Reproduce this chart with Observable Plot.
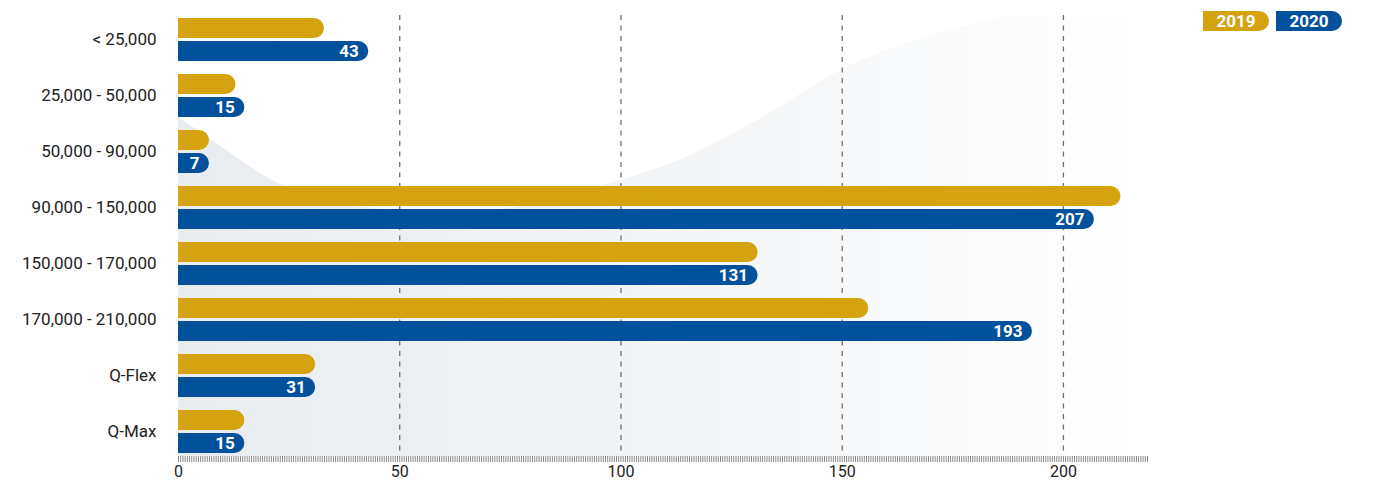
<!DOCTYPE html>
<html>
<head>
<meta charset="utf-8">
<script src="https://cdn.jsdelivr.net/npm/d3@7"></script>
<script src="https://cdn.jsdelivr.net/npm/@observablehq/plot@0.6"></script>
<style>
  html, body { margin: 0; padding: 0; background: #fff; }
  #wrap { position: relative; width: 1380px; height: 481px; font-family: Roboto, "Noto Sans", sans-serif; }
  #legend { position: absolute; left: 1203px; top: 11px; display: flex; gap: 7px; }
  .pill { width: 66px; height: 20px; line-height: 20px; border-radius: 0 10px 10px 0; color: #fff;
          font-weight: 700; font-size: 17px; text-align: center; font-family: Roboto, sans-serif; }
</style>
</head>
<body>
<div id="wrap"><div id="legend"></div></div>
<script>
// ---- data ----
const categories = ["< 25,000", "25,000 - 50,000", "50,000 - 90,000", "90,000 - 150,000",
                    "150,000 - 170,000", "170,000 - 210,000", "Q-Flex", "Q-Max"];
const values2019 = [33, 13, 7, 213, 131, 156, 31, 15];
const values2020 = [43, 15, 7, 207, 131, 193, 31, 15];
const years = ["2019", "2020"];
const gridTicks = [50, 100, 150, 200];
const axisLabelTicks = [0, 50, 100, 150, 200];
// decorative backdrop wave: x value and relative depth from top of plot area
const waveX = [0, 7.5, 22.6, 38.9, 60.3, 81.8, 97.8, 113, 131.5, 151, 172, 192.7, 219];
const waveDepth = [0.231, 0.283, 0.381, 0.431, 0.447, 0.426, 0.381, 0.329, 0.234, 0.118, 0.041, 0, 0];

const colors = {"2019": "#d4a30f", "2020": "#03519b"};

const rows = [];
categories.forEach((c, i) => {
  rows.push({cat: c, year: "2019", value: values2019[i]});
  rows.push({cat: c, year: "2020", value: values2020[i]});
});
const r2019 = rows.filter(d => d.year === "2019");
const r2020 = rows.filter(d => d.year === "2020");
const wave = waveX.map((x, i) => ({x, f: waveDepth[i]}));

function backdrop(index, scales, values, dimensions) {
  const {marginTop, marginBottom, height} = dimensions;
  const top = marginTop, bottom = height - marginBottom;
  const ns = "http://www.w3.org/2000/svg";
  const g = document.createElementNS(ns, "g");
  const defs = document.createElementNS(ns, "defs");
  const grad = document.createElementNS(ns, "linearGradient");
  grad.setAttribute("id", "bgGrad");
  grad.setAttribute("gradientUnits", "userSpaceOnUse");
  grad.setAttribute("x1", scales.x(0)); grad.setAttribute("x2", scales.x(219));
  grad.setAttribute("y1", 0); grad.setAttribute("y2", 0);
  [["0", "#e8ecf0"], ["0.55", "#f3f5f7"], ["1", "#ffffff"]].forEach(([o, c]) => {
    const s = document.createElementNS(ns, "stop");
    s.setAttribute("offset", o); s.setAttribute("stop-color", c);
    grad.appendChild(s);
  });
  defs.appendChild(grad);
  g.appendChild(defs);
  const area = d3.area()
    .x(d => scales.x(d.x))
    .y0(bottom)
    .y1(d => top + d.f * (bottom - top))
    .curve(d3.curveMonotoneX);
  const p = document.createElementNS(ns, "path");
  p.setAttribute("d", area(wave));
  p.setAttribute("fill", "url(#bgGrad)");
  g.appendChild(p);
  return g;
}

const chart = Plot.plot({
  width: 1380,
  height: 481,
  marginLeft: 178,
  marginRight: 233,
  marginTop: 15,
  marginBottom: 25,
  style: {fontFamily: "Roboto, sans-serif", fontSize: "17px", color: "#222", background: "transparent"},
  x: {domain: [0, 219]},
  y: {domain: categories, paddingInner: 0.24, paddingOuter: 0.02},
  marks: [
    backdrop,
    Plot.ruleX(gridTicks, {stroke: "#707070", strokeWidth: 1.3, strokeDasharray: "5,5.5"}),
    Plot.barX(r2019, {x: "value", y: "cat", fill: colors["2019"], rx: 10, insetBottom: 23}),
    Plot.barX(r2019, {x1: d => 0, x2: d => d.value / 2, y: "cat", fill: colors["2019"], insetBottom: 23}),
    Plot.barX(r2020, {x: "value", y: "cat", fill: colors["2020"], rx: 10, insetTop: 23}),
    Plot.barX(r2020, {x1: d => 0, x2: d => d.value / 2, y: "cat", fill: colors["2020"], insetTop: 23}),
    Plot.text(r2020, {x: "value", y: "cat", text: d => String(d.value), dx: -10, dy: 11.5,
                      textAnchor: "end", fill: "white", fontWeight: "bold", fontSize: 17}),
    Plot.axisY({tickSize: 0, tickPadding: 22, fontSize: 17, fill: "#222", label: null}),
    Plot.axisX({ticks: d3.range(0, 219.01, 0.5), tickFormat: d => axisLabelTicks.includes(d) ? String(d) : "",
                tickSize: 6, tickPadding: 3, fontSize: 16, stroke: "#8a8a8a", fill: "#222", label: null})
  ]
});
chart.style.position = "absolute";
chart.style.left = "0";
chart.style.top = "0";
const wrap = document.getElementById("wrap");
wrap.insertBefore(chart, wrap.firstChild);

const legend = document.getElementById("legend");
years.forEach(y => {
  const d = document.createElement("div");
  d.className = "pill";
  d.style.background = colors[y];
  d.textContent = y;
  legend.appendChild(d);
});
</script>
</body>
</html>
